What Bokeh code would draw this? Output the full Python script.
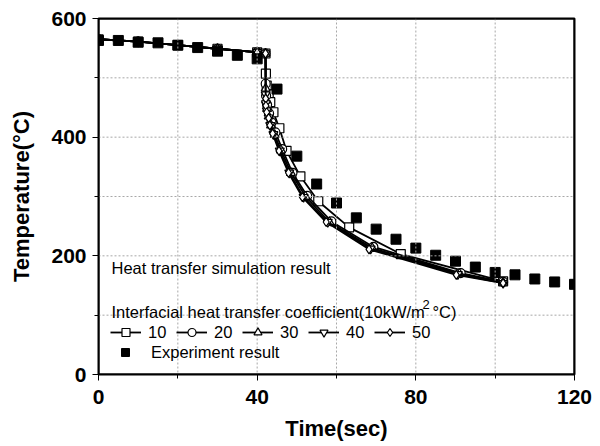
from bokeh.plotting import figure
from bokeh.models import Legend, LegendItem, Label, SingleIntervalTicker, Range1d, Span, BoxAnnotation
from bokeh.embed import file_html
from bokeh.resources import INLINE

# Experiment data
exp_t = [0, 5, 10, 15, 20, 25, 30, 35, 40, 45, 50, 55, 60, 65, 70, 75, 80, 85, 90, 95, 100, 105, 110, 115, 120]
exp_T = [563, 563, 560, 559, 555, 551, 545, 538, 532, 481, 368, 321, 289, 264, 245, 228, 213, 201, 191, 181, 172, 168, 161, 156, 152]

# Simulation series (interfacial heat transfer coefficient, 10kW/m2C)
sim_labels = ["10", "20", "30", "40", "50"]
sim10_t = [0, 10, 20, 30, 40, 42.1, 42.2, 42.4, 42.9, 43.3, 44.1, 45.6, 47.4, 50.9, 55.4, 63.2, 76.2, 102]
sim10_T = [565, 561, 555, 549, 543, 541, 507, 487, 472, 459, 442, 415, 377, 334, 292, 248, 203, 157]
sim20_t = [0, 10, 20, 30, 40, 42.1, 42.15, 42.25, 42.5, 43.0, 43.6, 44.6, 46.3, 48.9, 52.6, 58.7, 69.3, 91.3, 102]
sim20_T = [565, 561, 555, 549, 543, 541, 490, 470, 455, 440, 425, 408, 380, 340, 301, 258, 215, 171, 156]
sim30_t = [0, 10, 20, 30, 40, 42.1, 42.15, 42.25, 42.5, 42.9, 43.5, 44.4, 46.0, 48.5, 52.2, 58.2, 69.0, 91.0, 102]
sim30_T = [565, 561, 555, 549, 543, 541, 482, 462, 448, 435, 420, 404, 378, 340, 300, 257, 213, 170, 155]
sim40_t = [0, 10, 20, 30, 40, 42.1, 42.15, 42.2, 42.45, 42.9, 43.3, 44.1, 45.7, 48.1, 51.7, 57.8, 68.6, 90.6, 102]
sim40_T = [565, 561, 555, 549, 543, 541, 472, 457, 445, 433, 420, 405, 377, 340, 299, 257, 212, 169, 154]
sim50_t = [0, 10, 20, 30, 40, 42.1, 42.15, 42.2, 42.4, 42.9, 43.2, 43.9, 45.5, 47.9, 51.4, 57.4, 68.2, 90.2, 102]
sim50_T = [565, 561, 555, 549, 543, 541, 465, 453, 442, 432, 420, 406, 377, 340, 299, 257, 211, 168, 154]

sim_t = [sim10_t, sim20_t, sim30_t, sim40_t, sim50_t]
sim_T = [sim10_T, sim20_T, sim30_T, sim40_T, sim50_T]
markers = ["square", "circle", "triangle", "inverted_triangle", "diamond"]

# Grid positions (every minor tick)
grid_x = [20, 40, 60, 80, 100]
grid_y = [100, 200, 300, 400, 500]

FONT = "Liberation Sans"

p = figure(frame_width=476, frame_height=356,
           min_border_left=98, min_border_right=18, min_border_top=18, min_border_bottom=70,
           x_range=Range1d(0, 120), y_range=Range1d(0, 600),
           output_backend="svg", toolbar_location=None)
p.outline_line_color = "black"
p.outline_line_width = 2

xt = SingleIntervalTicker(interval=40, num_minor_ticks=2)
yt = SingleIntervalTicker(interval=200, num_minor_ticks=2)
p.xaxis.ticker = xt
p.yaxis.ticker = yt
p.xgrid.ticker = xt
p.ygrid.ticker = yt
p.grid.grid_line_color = None
for ax in (p.xaxis[0], p.yaxis[0]):
    ax.major_tick_in = 0
    ax.minor_tick_in = 0
    ax.axis_line_color = "black"
    ax.major_label_text_font = FONT
    ax.major_label_text_font_style = "bold"
    ax.major_label_text_font_size = "21px"
    ax.major_label_text_color = "black"
    ax.axis_label_text_font = FONT
    ax.axis_label_text_font_style = "bold"
    ax.axis_label_text_font_size = "22px"
    ax.axis_label_text_color = "black"
p.xaxis.axis_label = "Time(sec)"
p.yaxis.axis_label = "Temperature(\u00b0C)"
p.xaxis.major_label_standoff = 9
p.xaxis.axis_label_standoff = 9
p.yaxis.major_label_standoff = 6
p.yaxis.axis_label_standoff = 14

# Dotted grid lines (drawn below the data)
for gx in grid_x:
    p.add_layout(Span(location=gx, dimension="height", line_color="#a8a8a8",
                      line_dash="2 2", line_width=1, level="glyph"))
for gy in grid_y:
    p.add_layout(Span(location=gy, dimension="width", line_color="#a8a8a8",
                      line_dash="2 2", line_width=1, level="glyph"))

# Simulation series
items = []
for lab, ts, Ts, mk in zip(sim_labels, sim_t, sim_T, markers):
    lr = p.line(ts, Ts, line_color="black", line_width=1.8)
    sr = p.scatter(ts, Ts, marker=mk, size=9, fill_color="white",
                   line_color="black", line_width=1.2)
    items.append(LegendItem(label=lab, renderers=[lr, sr]))

# Experiment
er = p.scatter(exp_t, exp_T, marker="square", size=10, fill_color="black", line_color="black")

# Frame box
p.add_layout(BoxAnnotation(left=0, right=120, bottom=0, top=600, fill_alpha=0,
                           line_color="black", line_alpha=1, line_width=2))

leg1 = Legend(items=items, orientation="horizontal", location=(12, 32),
              glyph_width=31, glyph_height=20, label_standoff=7, spacing=8,
              label_width=20, label_height=20, padding=0, margin=0,
              border_line_color=None, background_fill_alpha=0,
              label_text_font=FONT, label_text_font_size="16.5px", label_text_color="black")
leg2 = Legend(items=[LegendItem(label="Experiment result", renderers=[er])],
              location=(17, 12),
              glyph_width=20, glyph_height=20, label_standoff=16,
              label_height=20, padding=0, margin=0,
              border_line_color=None, background_fill_alpha=0,
              label_text_font=FONT, label_text_font_size="16.5px", label_text_color="black")
p.add_layout(leg1, "center")
p.add_layout(leg2, "center")

def fx(px):
    return px / 476 * 120

def fy(py):
    return (356 - py) / 356 * 600

p.add_layout(Label(x=fx(13), y=fy(249), text="Heat transfer simulation result",
                   text_font=FONT, text_font_size="16.5px", text_baseline="middle", text_color="black"))
p.add_layout(Label(x=fx(13), y=fy(293), text="Interfacial heat transfer coefficient(10kW/m",
                   text_font=FONT, text_font_size="16.5px", text_baseline="middle", text_color="black"))
p.add_layout(Label(x=fx(324), y=fy(286), text="2",
                   text_font=FONT, text_font_size="13px", text_baseline="middle", text_color="black"))
p.add_layout(Label(x=fx(334), y=fy(293), text="\u00b0C)",
                   text_font=FONT, text_font_size="16.5px", text_baseline="middle", text_color="black"))

open("out.html", "w").write(file_html(p, INLINE))
